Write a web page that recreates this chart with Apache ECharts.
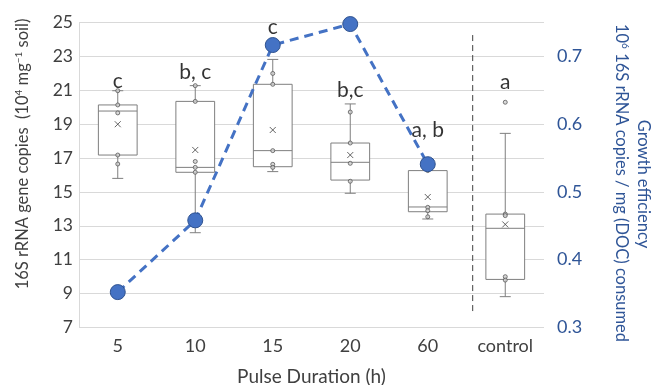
<!DOCTYPE html>
<html><head><meta charset="utf-8">
<script src="https://cdn.jsdelivr.net/npm/echarts@6/dist/echarts.min.js"></script>
<style>html,body{margin:0;padding:0;background:#fff}#c{width:651px;height:385px}</style>
</head><body><div id="c"></div>
<script>
const categories = ['5', '10', '15', '20', '60', 'control'];
// [min, Q1, median, Q3, max]
const boxStats = [
  [15.8, 17.18, 19.78, 20.14, 20.98],
  [12.59, 16.16, 16.45, 20.35, 21.28],
  [16.2, 16.49, 17.44, 21.36, 22.83],
  [14.92, 15.7, 16.75, 17.89, 20.2],
  [13.4, 13.83, 14.11, 16.26, 16.26],
  [8.81, 9.83, 12.85, 13.69, 18.46]
];
const means = [19.0, 17.48, 18.66, 17.18, 14.7, 13.08];
const innerPoints = [
  [20.98, 20.14, 19.67, 17.18, 16.65],
  [21.28, 20.35, 16.8, 16.45, 16.16],
  [22.0, 21.36, 17.44, 16.63, 16.45],
  [19.72, 17.89, 16.69, 15.63],
  [16.26, 14.09, 13.89, 13.53],
  [20.3, 13.69, 13.6, 9.99, 9.79]
];
const growthEfficiency = [0.352, 0.458, 0.717, 0.748, 0.541];
const letters = ['c', 'b, c', 'c', 'b,c', 'a, b', 'a'];
const letterValues = [21.57, 22.1, 24.76, 21.02, 18.66, 21.51];
const leftTicks = {min: 7, max: 25, interval: 2};
const rightTicks = {min: 0.3, max: 0.75, interval: 0.1};
const separatorAt = 5.08;
const separatorRange = [24.27, 7.84];

const FONT = 'Lato, "Open Sans", sans-serif';
const GRAY = '#404040';
const BLUE = '#2F5597';

const chart = echarts.init(document.getElementById('c'));

const boxData = boxStats.map((s, i) => [i].concat(s));
const pointData = [];
innerPoints.forEach((arr, i) => arr.forEach(v => pointData.push([i, v])));
const meanData = means.map((v, i) => [i, v]);
const letterData = letterValues.map((v, i) => ({value: [i, v], label: {formatter: letters[i]}}));

const option = {
  animation: false,
  textStyle: {fontFamily: FONT},
  grid: {left: 79, right: 107, top: 22.7, bottom: 57.7, containLabel: false, outerBoundsMode: 'none'},
  xAxis: [{
    type: 'category', data: categories,
    axisLine: {show: false}, axisTick: {show: false},
    axisLabel: {color: GRAY, fontSize: 18, margin: 10, fontFamily: FONT},
    name: 'Pulse Duration (h)', nameLocation: 'middle', nameGap: 40,
    nameTextStyle: {color: GRAY, fontSize: 19, fontFamily: FONT}
  }, {
    type: 'value', min: 0, max: 6, show: false
  }],
  yAxis: [{
    type: 'value', min: leftTicks.min, max: leftTicks.max, interval: leftTicks.interval,
    axisLine: {show: true, lineStyle: {color: '#D9D9D9'}}, axisTick: {show: false},
    splitLine: {lineStyle: {color: '#D9D9D9'}},
    axisLabel: {color: GRAY, fontSize: 17.5, margin: 6, fontFamily: FONT}
  }, {
    type: 'value', min: rightTicks.min, max: rightTicks.max, interval: rightTicks.interval,
    position: 'right',
    axisLine: {show: false}, axisTick: {show: false}, splitLine: {show: false},
    axisLabel: {color: BLUE, fontSize: 18, margin: 13, fontFamily: FONT,
      formatter: v => (v > 0.72 ? '' : v.toFixed(1))}
  }],
  graphic: [{
    type: 'text', x: 22.5, y: 154, rotation: Math.PI / 2,
    style: {
      text: '{a|16S rRNA gene copies  (10}{s|4}{a| mg}{s|−1}{a| soil)}',
      align: 'center', verticalAlign: 'middle',
      rich: {
        a: {fontSize: 16.5, fill: GRAY, fontFamily: FONT},
        s: {fontSize: 10, fill: GRAY, fontFamily: FONT, verticalAlign: 'top', padding: [0, 0, 6, 0]}
      }
    }
  }, {
    type: 'text', x: 643, y: 184, rotation: -Math.PI / 2,
    style: {text: 'Growth efficiency', align: 'center', verticalAlign: 'middle',
      fill: BLUE, fontSize: 16.5, fontFamily: FONT}
  }, {
    type: 'text', x: 621.5, y: 183, rotation: -Math.PI / 2,
    style: {
      text: '{a|10}{s|6}{a| 16S rRNA copies / mg (DOC) consumed}',
      align: 'center', verticalAlign: 'middle',
      rich: {
        a: {fontSize: 16.5, fill: BLUE, fontFamily: FONT},
        s: {fontSize: 10, fill: BLUE, fontFamily: FONT, verticalAlign: 'top', padding: [0, 0, 6, 0]}
      }
    }
  }],
  series: [{
    type: 'line', xAxisIndex: 1, yAxisIndex: 0, symbol: 'none', silent: true,
    data: [[separatorAt, separatorRange[0]], [separatorAt, separatorRange[1]]],
    lineStyle: {color: '#404040', width: 1, type: [6, 4]}, z: 1
  }, {
    type: 'custom', xAxisIndex: 0, yAxisIndex: 0, z: 2,
    data: boxData,
    renderItem: function (params, api) {
      const x = api.value(0);
      const pMin = api.coord([x, api.value(1)]);
      const pQ1 = api.coord([x, api.value(2)]);
      const pMed = api.coord([x, api.value(3)]);
      const pQ3 = api.coord([x, api.value(4)]);
      const pMax = api.coord([x, api.value(5)]);
      const bw = api.size([1, 0])[0] * 0.5;
      const cw = 11;
      const cx = pMed[0];
      const st = {stroke: '#7F7F7F', lineWidth: 1, fill: null};
      return {
        type: 'group',
        children: [
          {type: 'line', shape: {x1: cx, y1: pMax[1], x2: cx, y2: pQ3[1]}, style: st},
          {type: 'line', shape: {x1: cx, y1: pQ1[1], x2: cx, y2: pMin[1]}, style: st},
          {type: 'line', shape: {x1: cx - cw / 2, y1: pMax[1], x2: cx + cw / 2, y2: pMax[1]}, style: st},
          {type: 'line', shape: {x1: cx - cw / 2, y1: pMin[1], x2: cx + cw / 2, y2: pMin[1]}, style: st},
          {type: 'rect', shape: {x: cx - bw / 2, y: pQ3[1], width: bw, height: pQ1[1] - pQ3[1]},
            style: {stroke: '#7F7F7F', lineWidth: 1, fill: '#fff'}},
          {type: 'line', shape: {x1: cx - bw / 2, y1: pMed[1], x2: cx + bw / 2, y2: pMed[1]}, style: st}
        ]
      };
    }
  }, {
    type: 'scatter', xAxisIndex: 0, yAxisIndex: 0, z: 3, data: pointData,
    symbol: 'circle', symbolSize: 4,
    itemStyle: {color: '#D0D0D0', borderColor: '#595959', borderWidth: 1}
  }, {
    type: 'scatter', xAxisIndex: 0, yAxisIndex: 0, z: 3, data: meanData,
    symbol: 'path://M0,0L10,10M10,0L0,10', symbolSize: 6,
    itemStyle: {color: 'none', borderColor: '#404040', borderWidth: 1}
  }, {
    type: 'line', xAxisIndex: 0, yAxisIndex: 1, z: 5, data: growthEfficiency,
    symbol: 'circle', symbolSize: 15,
    lineStyle: {color: '#4472C4', width: 3, type: [9, 6]},
    itemStyle: {color: '#4472C4', borderColor: '#2F528F', borderWidth: 1}
  }, {
    type: 'scatter', xAxisIndex: 0, yAxisIndex: 0, z: 6, data: letterData,
    symbolSize: 1, itemStyle: {color: 'rgba(0,0,0,0)'},
    label: {show: true, position: 'inside', color: '#000', fontSize: 21, fontFamily: FONT}
  }]
};
chart.setOption(option);
</script></body></html>
